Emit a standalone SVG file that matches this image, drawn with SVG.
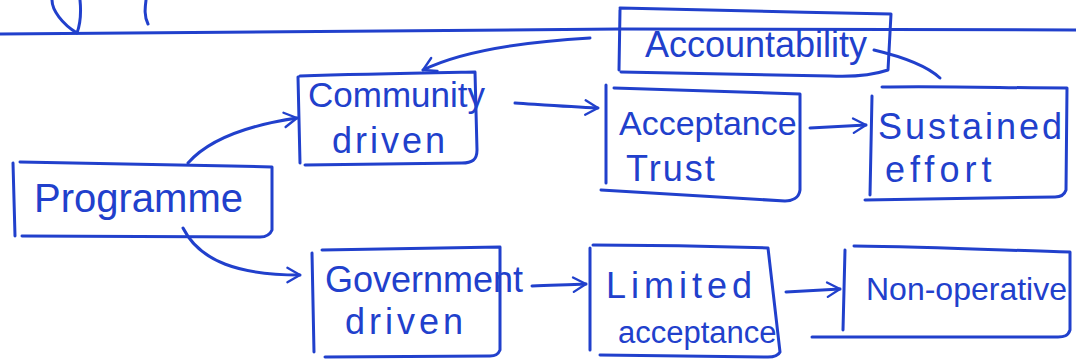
<svg xmlns="http://www.w3.org/2000/svg" width="1076" height="363" viewBox="0 0 1076 363">
  <style>
    .ink { fill: none; stroke: #2140cc; stroke-width: 3; stroke-linecap: round; stroke-linejoin: round; }
    .lbl { font-family: "Liberation Sans", Arial, sans-serif; fill: #2140cc; }
  </style>
  <defs>
    <marker id="arrow" viewBox="0 0 20 20" refX="18" refY="10" markerWidth="18" markerHeight="18" markerUnits="userSpaceOnUse" orient="auto">
      <path d="M4,2 L18,10 L4,18" fill="none" stroke="#2140cc" stroke-width="2.6" stroke-linecap="round" stroke-linejoin="round"/>
    </marker>
  </defs>
  <rect width="1076" height="363" fill="#ffffff"/>

  <!-- page rule and strokes above it -->
  <g id="header">
    <path class="ink" d="M0,34 C200,32 400,31 620,29 C800,28 950,30 1076,30"/>
    <path class="ink" d="M77,33 C62,24 52,10 52,0 M77,33 C81,22 81,10 80,0"/>
    <path class="ink" d="M148,24 C144,16 145,8 146,0"/>
  </g>

  <g id="connectors">
    <!-- Accountability feeds back to Community driven -->
    <path class="ink" d="M590,38 C520,42 460,52 423,70" marker-end="url(#arrow)"/>
    <!-- Accountability tied to Sustained effort -->
    <path class="ink" d="M874,50 C895,55 925,64 940,78"/>
    <!-- Programme to Community driven -->
    <path class="ink" d="M188,163 C210,138 250,125 297,118" marker-end="url(#arrow)"/>
    <!-- Programme to Government driven -->
    <path class="ink" d="M183,228 C200,262 240,275 300,275" marker-end="url(#arrow)"/>
    <!-- top row -->
    <path class="ink" d="M515,103 C545,105 570,107 598,108" marker-end="url(#arrow)"/>
    <path class="ink" d="M810,128 C830,127 848,126 866,125" marker-end="url(#arrow)"/>
    <!-- bottom row -->
    <path class="ink" d="M532,286 C552,285 568,285 586,284" marker-end="url(#arrow)"/>
    <path class="ink" d="M786,292 C805,291 822,290 840,289" marker-end="url(#arrow)"/>
  </g>

  <g id="accountability">
    <path class="ink" d="M620,10 L619,70 M620,8 C700,10 800,12 891,14 L888,70 C870,76 850,77 830,76 L621,72"/>
    <text class="lbl" x="645" y="57" font-size="36">Accountability</text>
  </g>

  <g id="community">
    <path class="ink" d="M298,77 L300,163 M300,76 C360,74 420,73 475,72 L477,150 C477,160 472,163 462,163 L305,165"/>
    <text class="lbl" x="308" y="107" font-size="35">Community</text>
    <text class="lbl" x="332" y="153" font-size="36" letter-spacing="3">driven</text>
  </g>

  <g id="acceptance">
    <path class="ink" d="M606,85 L606,183 M614,88 C680,90 740,92 800,94 L800,190 C799,198 792,201 785,201 L601,190"/>
    <text class="lbl" x="619" y="135" font-size="34">Acceptance</text>
    <text class="lbl" x="626" y="181" font-size="36" letter-spacing="2">Trust</text>
  </g>

  <g id="sustained">
    <path class="ink" d="M872,96 L870,195 M882,87 C950,86 1010,88 1067,88 L1066,190 C1064,196 1060,197 1055,197 L865,200"/>
    <text class="lbl" x="878" y="139" font-size="36" letter-spacing="3">Sustained</text>
    <text class="lbl" x="885" y="182" font-size="36" letter-spacing="5">effort</text>
  </g>

  <g id="programme">
    <path class="ink" d="M13,163 L15,236 M20,162 C110,163 190,165 272,167 L272,230 C270,235 266,237 260,237 L22,236"/>
    <text class="lbl" x="34" y="212" font-size="40">Programme</text>
  </g>

  <g id="government">
    <path class="ink" d="M312,253 L314,352 M322,250 C380,249 440,248 500,247 L500,350 C498,355 495,356 490,356 L325,357"/>
    <text class="lbl" x="325" y="292" font-size="36">Government</text>
    <text class="lbl" x="345" y="334" font-size="36" letter-spacing="4">driven</text>
  </g>

  <g id="limited">
    <path class="ink" d="M590,248 L590,350 M593,245 C650,245 710,246 768,248 L780,352 C778,356 774,357 768,357 L600,355"/>
    <text class="lbl" x="606" y="298" font-size="36" letter-spacing="5">Limited</text>
    <text class="lbl" x="618" y="343" font-size="31">acceptance</text>
  </g>

  <g id="non-operative">
    <path class="ink" d="M845,250 L843,330 M854,246 C930,247 1000,250 1070,252 L1070,330 C1068,336 1064,337 1058,337 L812,337"/>
    <text class="lbl" x="866" y="300" font-size="32">Non-operative</text>
  </g>
</svg>
